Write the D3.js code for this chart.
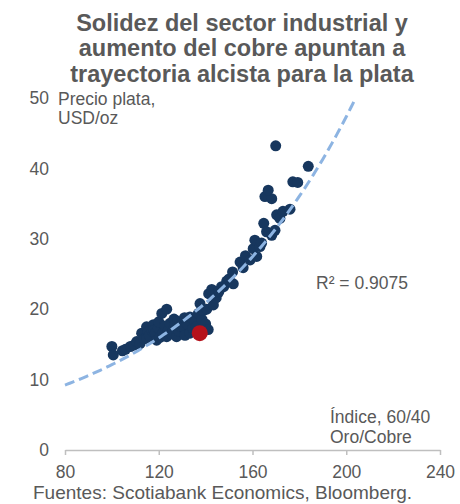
<!DOCTYPE html>
<html>
<head>
<meta charset="utf-8">
<script src="https://cdn.jsdelivr.net/npm/d3@7"></script>
<style>
  body { margin: 0; background: #fff; }
  svg { font-family: "Liberation Sans", Arial, sans-serif; }
  .tick text { fill: #595959; font-size: 17.5px; }
</style>
</head>
<body>
<svg id="chart"></svg>
<script>
// oro/cobre index (x) vs silver price (y)
const indexVals = [
  100.0, 100.6, 104.5, 105.8, 107.9, 109.5, 110.6, 112.0, 112.7, 113.8,
  114.8, 114.8, 115.5, 116.0, 117.2, 117.7, 118.0, 118.5, 119.1, 119.8,
  120.0, 120.5, 121.3, 121.8, 122.5, 123.4, 123.4, 124.0, 124.8, 125.5,
  126.2, 126.5, 127.0, 127.6, 128.0, 128.5, 129.0, 130.5, 131.0, 131.2,
  132.0, 133.3, 133.3, 134.5, 135.5, 136.0, 136.9, 137.6, 138.5, 139.0,
  140.0, 140.5, 141.1, 141.3, 142.6, 143.3, 144.5, 145.5, 145.7, 146.8,
  147.7, 149.0, 150.0, 151.5, 151.8, 154.7, 156.0, 157.0, 159.0, 160.3,
  161.0, 161.8, 163.2, 163.9, 164.8, 166.0, 168.2, 169.6, 170.3, 171.7,
  173.0, 176.0, 165.3, 168.2, 166.7, 177.2, 179.3, 183.8, 169.9
];
const silverVals = [
  14.7, 13.5, 14.1, 14.3, 14.7, 14.9, 15.4, 15.1, 16.6, 15.8,
  15.9, 17.5, 16.8, 16.3, 16.9, 17.8, 17.0, 16.6, 15.6, 17.3,
  18.2, 16.0, 19.4, 16.6, 17.6, 20.0, 16.1, 16.9, 18.0, 16.5,
  17.0, 18.6, 17.8, 16.1, 18.3, 16.9, 17.6, 17.5, 18.8, 16.3,
  17.9, 16.6, 18.9, 17.3, 18.2, 17.5, 19.4, 20.8, 18.5, 19.8,
  17.9, 20.0, 17.1, 22.2, 22.8, 20.6, 21.6, 22.4, 22.6, 23.2,
  23.2, 24.0, 24.3, 25.3, 23.6, 26.7, 25.9, 27.6, 27.0, 28.6,
  29.8, 27.5, 28.9, 29.4, 32.2, 31.0, 30.5, 31.2, 33.4, 32.9,
  33.9, 34.2, 36.0, 35.7, 36.9, 38.1, 38.0, 40.3, 43.2
];
const currentPoint = [137.5, 16.6];

const xTicks = [80, 120, 160, 200, 240];
const yTicks = [0, 10, 20, 30, 40, 50];

// exponential trendline y = a*e^(b*x)
const trendA = 3.103;
const trendB = 0.013625;
const rSquared = "R² = 0.9075";

const titleLines = [
  "Solidez del sector industrial y",
  "aumento del cobre apuntan a",
  "trayectoria alcista para la plata"
];

let w = 460;
let h = 504;

let svg = d3.select('#chart')
  .attr('width', w)
  .attr('height', h);

let x = d3.scaleLinear().domain([80, 240]).range([65, 440]);
let y = d3.scaleLinear().domain([0, 50]).range([450, 98]);

// title
svg.append('g')
  .selectAll('text')
  .data(titleLines)
  .enter()
  .append('text')
  .attr('x', 242)
  .attr('y', (d, i) => 30.5 + i * 25.5)
  .attr('text-anchor', 'middle')
  .style('font-size', '23.5px')
  .style('font-weight', 'bold')
  .style('fill', '#595959')
  .text(d => d);

// y axis (labels only)
let yAxis = d3.axisLeft(y).tickValues(yTicks).tickSize(0).tickPadding(0);
let gy = svg.append('g')
  .attr('transform', 'translate(49,0)')
  .call(yAxis);
gy.select('.domain').remove();

// x axis
let xAxis = d3.axisBottom(x).tickValues(xTicks).tickSizeInner(5).tickSizeOuter(0).tickPadding(10.5);
let gx = svg.append('g')
  .attr('transform', 'translate(0,450)')
  .call(xAxis);
gx.select('.domain').attr('stroke', '#bfbfbf').attr('stroke-width', 1.5);
gx.selectAll('.tick line').attr('stroke', '#bfbfbf').attr('stroke-width', 1.5);

// points
svg.append('g')
  .selectAll('circle')
  .data(indexVals.map((d, i) => [d, silverVals[i]]))
  .enter()
  .append('circle')
  .attr('cx', d => x(d[0]))
  .attr('cy', d => y(d[1]))
  .attr('r', 5.5)
  .attr('fill', '#17375e');

// trendline (drawn over the dots)
let xEnd = Math.log(50 / trendA) / trendB;
let trendPts = d3.range(80, xEnd, 1).concat([xEnd]);
let line = d3.line()
  .x(d => x(d))
  .y(d => y(trendA * Math.exp(trendB * d)));

svg.append('path')
  .datum(trendPts)
  .attr('d', line)
  .attr('fill', 'none')
  .attr('stroke', '#8db4e2')
  .attr('stroke-width', 3)
  .attr('stroke-dasharray', '10,5');

svg.append('circle')
  .attr('cx', x(currentPoint[0]))
  .attr('cy', y(currentPoint[1]))
  .attr('r', 8)
  .attr('fill', '#b5121b');

// labels
function addLines(lines, xp, yp, size) {
  svg.append('g')
    .selectAll('text')
    .data(lines)
    .enter()
    .append('text')
    .attr('x', xp)
    .attr('y', (d, i) => yp + i * 19.5)
    .style('font-size', size + 'px')
    .style('fill', '#595959')
    .text(d => d);
}

addLines(["Precio plata,", "USD/oz"], 58, 104.5, 17.5);
addLines(["Índice, 60/40", "Oro/Cobre"], 330, 423, 17.5);
addLines([rSquared], 316, 289, 17.5);
addLines(["Fuentes: Scotiabank Economics, Bloomberg."], 33, 499, 19);
</script>
</body>
</html>
